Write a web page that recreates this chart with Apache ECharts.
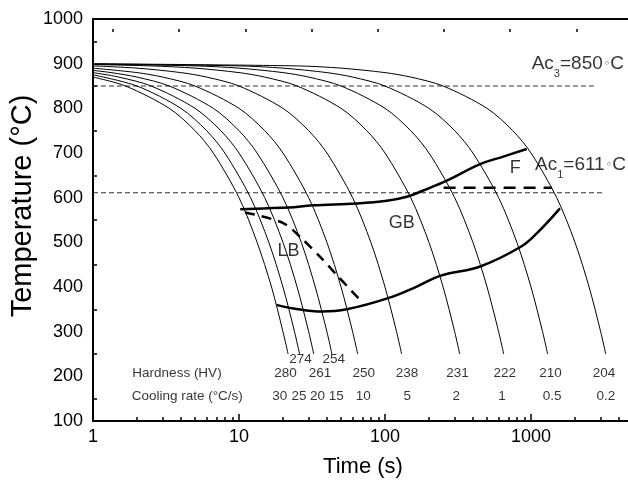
<!DOCTYPE html>
<html>
<head>
<meta charset="utf-8">
<script src="https://cdn.jsdelivr.net/npm/echarts@6/dist/echarts.min.js"></script>
<style>
  html, body { margin: 0; padding: 0; background: #fff; }
  #myChart { width: 628px; height: 483px; }
</style>
</head>
<body>
<div id="myChart"></div>
<script>
// cooling curves, [time (s), temperature (C)]
var cool30 = [[1, 870], [1.67, 850], [3.33, 800], [5, 750], [6.67, 700], [10, 600], [13.3, 500], [16.7, 400], [20, 300], [21.7, 250]];
var cool25 = [[1, 875], [2, 850], [4, 800], [6, 750], [8, 700], [12, 600], [16, 500], [20, 400], [24, 300], [26, 250]];
var cool20 = [[1, 880], [1.5, 870], [2.5, 850], [5, 800], [7.5, 750], [10, 700], [15, 600], [20, 500], [25, 400], [30, 300], [32.5, 250]];
var cool15 = [[1, 885], [1.33, 880], [2, 870], [3.33, 850], [6.67, 800], [10, 750], [13.3, 700], [20, 600], [26.7, 500], [33.3, 400], [40, 300], [43.3, 250]];
var cool10 = [[1, 890], [2, 880], [3, 870], [5, 850], [10, 800], [15, 750], [20, 700], [30, 600], [40, 500], [50, 400], [60, 300], [65, 250]];
var cool5 = [[1, 895], [2, 890], [4, 880], [6, 870], [10, 850], [20, 800], [30, 750], [40, 700], [60, 600], [80, 500], [100, 400], [120, 300], [130, 250]];
var cool2 = [[1, 898], [2.5, 895], [5, 890], [10, 880], [15, 870], [25, 850], [50, 800], [75, 750], [100, 700], [150, 600], [200, 500], [250, 400], [300, 300], [325, 250]];
var cool1 = [[1, 899], [5, 895], [10, 890], [20, 880], [30, 870], [50, 850], [100, 800], [150, 750], [200, 700], [300, 600], [400, 500], [500, 400], [600, 300], [650, 250]];
var cool05 = [[1, 899.5], [10, 895], [20, 890], [40, 880], [60, 870], [100, 850], [200, 800], [300, 750], [400, 700], [600, 600], [800, 500], [1000, 400], [1200, 300], [1300, 250]];
var cool02 = [[1, 899.8], [25, 895], [50, 890], [100, 880], [150, 870], [250, 850], [500, 800], [750, 750], [1000, 700], [1500, 600], [2000, 500], [2500, 400], [3000, 300], [3250, 250]];
var coolingCurves = [cool30, cool25, cool20, cool15, cool10, cool5, cool2, cool1, cool05, cool02];

// transformation boundaries
var upperLine = [[10.2, 574], [14.7, 576], [22, 578], [32, 583], [64, 587], [103, 593], [141, 602], [183, 616], [265, 638], [448, 675], [646, 692], [934, 709]];
var lowerLine = [[18.1, 360], [23.6, 352], [36.8, 345], [54.7, 350], [105, 375], [165, 401], [238, 425], [448, 446], [841, 489], [1094, 520], [1580, 576]];
var lbLine = [[11, 567], [20.1, 543], [27.6, 505], [36.8, 464], [46.7, 427], [67.4, 371]];
var fLine = [[252, 622], [1390, 622]];
var ac3Line = [[1, 850], [2690, 850]];
var ac1Line = [[1, 611], [3060, 611]];

// bottom annotation rows
var hardness = ['280', '274', '261', '254', '250', '238', '231', '222', '210', '204'];
var hardnessTime = [20.8, 26.4, 35.9, 44.6, 71.5, 141.5, 314, 660, 1360, 3162];
var hardnessTemp = [207, 238, 207, 238, 207, 207, 207, 207, 207, 207];
var rates = ['30', '25', '20', '15', '10', '5', '2', '1', '0.5', '0.2'];
var rateTime = [19, 25.8, 34.5, 46.4, 71, 142, 308, 633, 1393, 3252];
var rateTemp = 154.5;

var FONT = 'Liberation Sans, Arial, Helvetica, sans-serif';

function note(t, T, text, pos, size) {
  return {
    value: [t, T],
    label: { show: true, position: pos, distance: 0, formatter: text, fontSize: size, fontFamily: FONT, color: '#000' }
  };
}

var acRich = {
  m: { fontSize: 19, fontFamily: FONT, color: '#000' },
  s: { fontSize: 11, fontFamily: FONT, color: '#000', padding: [20, 0, 0, 0] },
  o: { fontSize: 11, fontFamily: 'DejaVu Sans', color: '#000', padding: [0, 0, 0, 1] }
};

var notes = [];
notes.push(note(1.86, 207.5, 'Hardness (HV)', 'right', 13.5));
notes.push(note(1.84, rateTemp, 'Cooling rate (°C/s)', 'right', 13.5));
hardness.forEach(function (h, i) {
  notes.push(note(hardnessTime[i], hardnessTemp[i], h, 'inside', 13.5));
});
rates.forEach(function (r, i) {
  notes.push(note(rateTime[i], rateTemp, r, 'inside', 13.5));
});
notes.push(note(781, 666, 'F', 'inside', 18));
notes.push(note(130, 543, 'GB', 'inside', 18));
notes.push(note(21.8, 481, 'LB', 'inside', 18));
notes.push({
  value: [1011, 900],
  label: { show: true, position: 'right', distance: 0, formatter: '{m|Ac}{s|3}{m|=850}{o|\u25E6}{m|C}', rich: acRich }
});
notes.push({
  value: [1065, 673],
  label: { show: true, position: 'right', distance: 0, formatter: '{m|Ac}{s|1}{m|=611}{o|\u25E6}{m|C}', rich: acRich }
});

var series = coolingCurves.map(function (d) {
  return { type: 'line', data: d, smooth: 0.3, showSymbol: false, symbol: 'none', lineStyle: { color: '#000', width: 1 }, z: 2 };
});
series.push({ type: 'line', data: ac3Line, showSymbol: false, symbol: 'none', lineStyle: { color: '#333', width: 1, type: [5, 3] }, z: 1 });
series.push({ type: 'line', data: ac1Line, showSymbol: false, symbol: 'none', lineStyle: { color: '#333', width: 1, type: [5, 3] }, z: 1 });
series.push({ type: 'line', data: upperLine, smooth: 0.4, showSymbol: false, symbol: 'none', lineStyle: { color: '#000', width: 2.5 }, z: 3 });
series.push({ type: 'line', data: lowerLine, smooth: 0.4, showSymbol: false, symbol: 'none', lineStyle: { color: '#000', width: 2.5 }, z: 3 });
series.push({ type: 'line', data: lbLine, smooth: 0.3, showSymbol: false, symbol: 'none', lineStyle: { color: '#000', width: 2.5, type: [10, 7] }, z: 3 });
series.push({ type: 'line', data: fLine, showSymbol: false, symbol: 'none', lineStyle: { color: '#000', width: 2.5, type: [12, 8] }, z: 3 });
series.push({ type: 'scatter', data: notes, symbolSize: 0, z: 5 });

var option = {
  animation: false,
  grid: [
    { left: 93, right: -49, top: 19, bottom: 62, outerBoundsMode: 'none', containLabel: false, show: true, borderColor: '#000', borderWidth: 2 },
    { left: 113, right: -49, top: 19, height: 10, outerBoundsMode: 'none', containLabel: false, show: false }
  ],
  xAxis: [
    {
      type: 'log',
      logBase: 10,
      min: 1,
      max: 10000,
      axisLine: { show: true, onZero: false, lineStyle: { color: '#000', width: 2 } },
      axisTick: { show: true, inside: true, length: 7, lineStyle: { color: '#000', width: 1.5 } },
      minorTick: { show: true, splitNumber: 9, length: 4, lineStyle: { color: '#000', width: 1.5 } },
      splitLine: { show: false },
      axisLabel: {
        margin: 7, fontSize: 18, fontFamily: FONT, color: '#000',
        formatter: function (v) { return String(Math.round(v)); }
      }
    },
    {
      gridIndex: 1,
      type: 'value',
      position: 'top',
      min: 0,
      max: 8.52,
      interval: 1,
      axisLine: { show: false },
      axisLabel: { show: false },
      splitLine: { show: false },
      axisTick: { show: true, inside: true, length: 3, lineStyle: { color: '#000', width: 1.5 } }
    }
  ],
  yAxis: [
    {
      type: 'value',
      min: 100,
      max: 1000,
      interval: 100,
      axisLine: { show: true, onZero: false, lineStyle: { color: '#000', width: 2 } },
      axisTick: { show: false, inside: true },
      minorTick: { show: true, splitNumber: 2, length: 4, lineStyle: { color: '#000', width: 1.5 } },
      splitLine: { show: false },
      axisLabel: {
        margin: 10, fontSize: 18, fontFamily: FONT, color: '#000',
        formatter: function (v) { return String(v); }
      }
    },
    { gridIndex: 1, type: 'value', show: false, min: 0, max: 1 }
  ],
  graphic: [
    {
      type: 'text', x: 23, y: 206, rotation: Math.PI / 2,
      style: { text: 'Temperature (°C)', fontSize: 29, fontFamily: FONT, fill: '#000', textAlign: 'center', textVerticalAlign: 'middle' }
    },
    {
      type: 'text', x: 363, y: 467,
      style: { text: 'Time (s)', fontSize: 22, fontFamily: FONT, fill: '#000', textAlign: 'center', textVerticalAlign: 'middle' }
    }
  ],
  series: series
};

var myChart = echarts.init(document.getElementById('myChart'));
myChart.setOption(option);
</script>
</body>
</html>
